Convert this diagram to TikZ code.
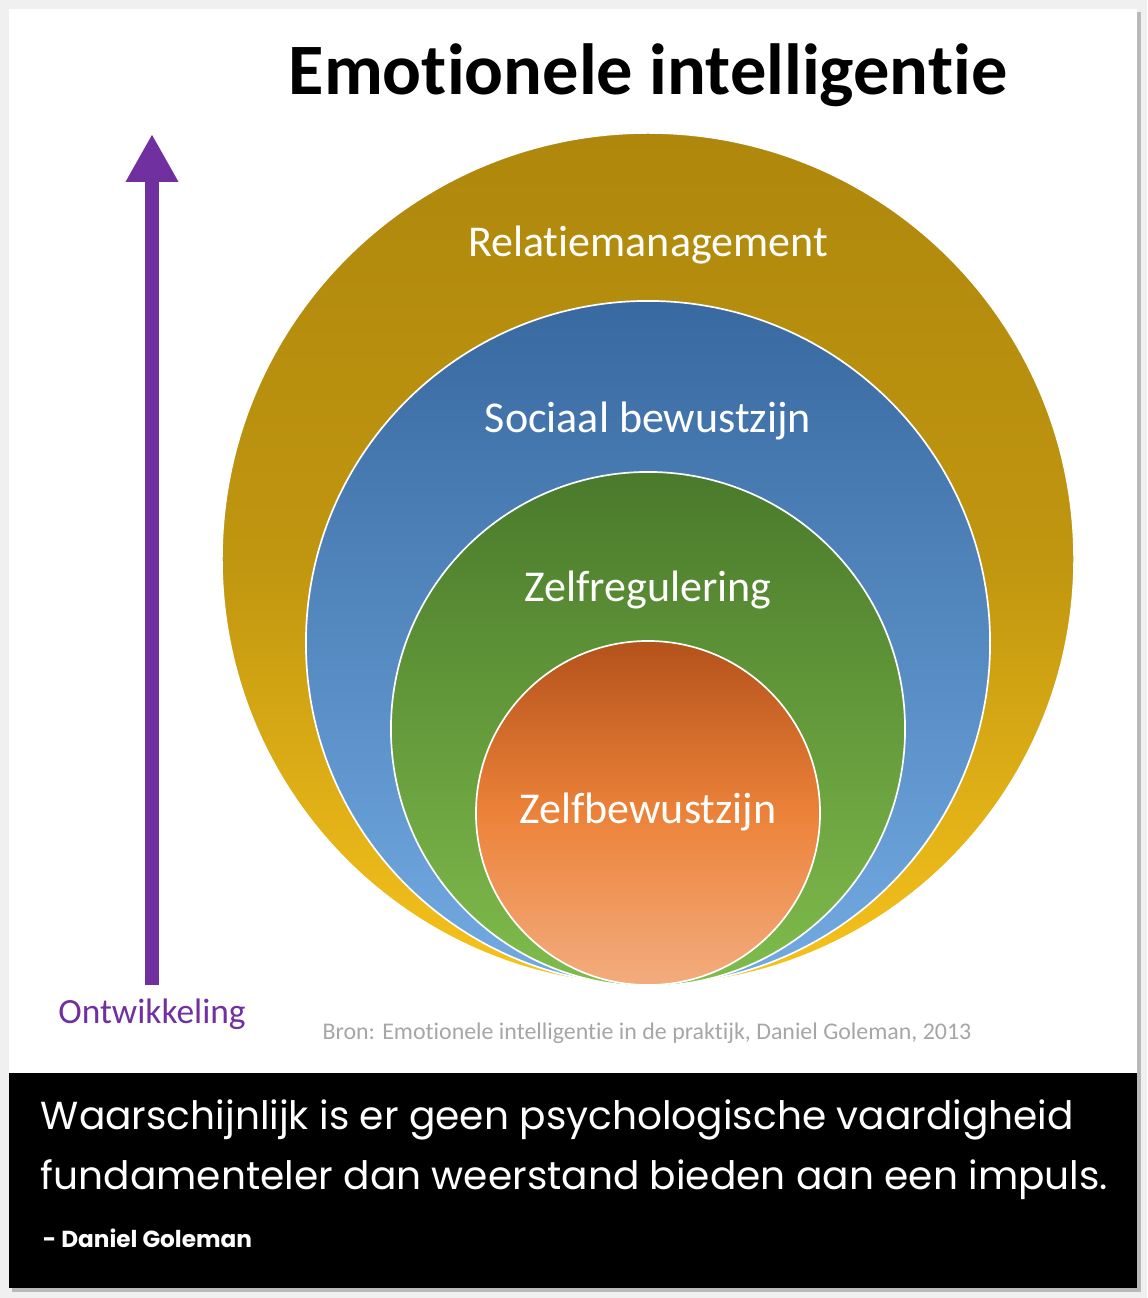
\documentclass[tikz,border=0pt]{standalone}
\usepackage{fontspec}
\setmainfont{Carlito}[Ligatures={NoCommon}]
\newfontfamily\quotefont{Poppins}
\usetikzlibrary{arrows.meta,positioning}

\definecolor{goldtop}{HTML}{AE870C}
\definecolor{goldbot}{HTML}{F7C31C}
\definecolor{bluetop}{HTML}{3869A0}
\definecolor{bluebot}{HTML}{72ABE2}
\definecolor{greentop}{HTML}{4A7A2B}
\definecolor{greenbot}{HTML}{80BC4C}
\definecolor{orangetop}{HTML}{B4521B}
\definecolor{orangemid}{HTML}{EC8239}
\definecolor{orangebot}{HTML}{F3AC7E}
\definecolor{devpurple}{HTML}{7030A0}
\definecolor{srcgray}{HTML}{A6A6A6}

\begin{document}
\begin{tikzpicture}[x=0.025cm, y=-0.025cm,
    ring/.style={circle, draw=white, line width=1.2pt, inner sep=0pt},
    ringlabel/.style={text=white, font=\fontsize{31.3}{36}\selectfont},
    quoteline/.style={text=white, anchor=west, font=\quotefont\fontsize{27.8}{33}\selectfont}]

\useasboundingbox (0,0) rectangle (1147,1298);
% frame with a soft shadow
\fill[gray!12] (0,0) rectangle (1147,1298);
\fill[gray!55] (12,12) rectangle (1141,1292);
\fill[white] (9,9) rectangle (1137,1288);
\fill[black] (9,1073) rectangle (1137,1288);

\node[font=\bfseries\fontsize{51.5}{58}\selectfont] (title) at (648,75) {Emotionele intelligentie};

% development arrow
\coordinate (dev bottom) at (152,985);
\coordinate (dev top) at (152,134);
\draw[devpurple, line width=10pt, -{Triangle[width=35pt,length=34pt]}] (dev bottom) -- (dev top);
\node[text=devpurple, font=\fontsize{25.2}{30}\selectfont] (dev) at (152,1014) {Ontwikkeling};

% nested circles, all touching at the bottom
\node[ring, minimum size=21.3cm, shading=axis, top color=goldtop, bottom color=goldbot, middle color=goldtop!75!goldbot] (relatie) at (648,559) {};
\node[ring, minimum size=17.1cm, shading=axis, top color=bluetop, bottom color=bluebot] (sociaal) at (648,643) {};
\node[ring, minimum size=12.85cm, shading=axis, top color=greentop, bottom color=greenbot] (zelfreg) at (648,729) {};
\node[ring, minimum size=8.6cm, shading=axis, top color=orangetop, bottom color=orangebot, middle color=orangemid] (zelfbew) at (648,813) {};

\node[ringlabel] (relatie label) at (648,245) {Relatiemanagement};
\node[ringlabel] (sociaal label) at (648,421) {Sociaal bewustzijn};
\node[ringlabel] (zelfreg label) at (648,590) {Zelfregulering};
\node[ringlabel] (zelfbew label) at (648,812) {Zelfbewustzijn};

\node[text=srcgray, font=\fontsize{17}{20}\selectfont] (bron) at (647,1033) {Bron: Emotionele intelligentie in de praktijk, Daniel Goleman, 2013};

% quote
\node[quoteline] (quote one) at (36,1120) {Waarschijnlijk is er geen psychologische vaardigheid};
\node[quoteline] (quote two) at (36,1180) {fundamenteler dan weerstand bieden aan een impuls.};
\node[quoteline, font=\quotefont\bfseries\fontsize{16.5}{20}\selectfont] (author) at (38,1238) {- Daniel Goleman};

\end{tikzpicture}
\end{document}
